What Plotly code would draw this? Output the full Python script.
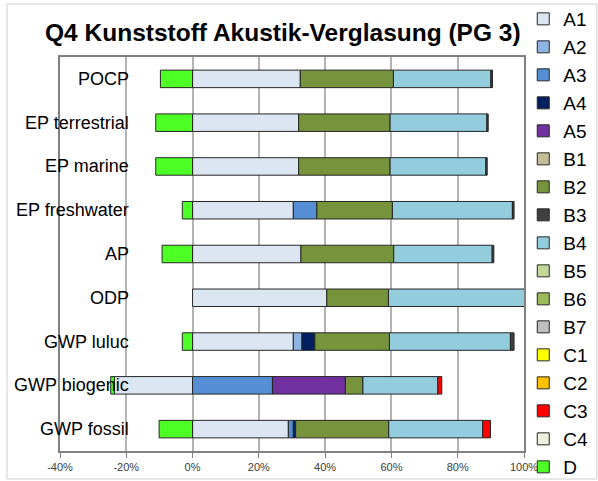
import plotly.graph_objects as go

categories = ["POCP", "EP terrestrial", "EP marine", "EP freshwater", "AP",
              "ODP", "GWP luluc", "GWP biogenic", "GWP fossil"]
x_ticks = [-40, -20, 0, 20, 40, 60, 80, 100]
x_tick_labels = ["-40%", "-20%", "0%", "20%", "40%", "60%", "80%", "100%"]

# values in % per module
A1 = [32.5, 32.0, 32.0, 30.4, 32.7, 40.5, 30.4, -23.6, 28.9]
A2 = [0, 0, 0, 0, 0, 0, 2.6, 0, 0]
A3 = [0, 0, 0, 7.1, 0, 0, 0, 24.1, 1.5]
A4 = [0, 0, 0, 0, 0, 0, 3.9, 0, 0.7]
A5 = [0, 0, 0, 0, 0, 0, 0, 22.0, 0]
B1 = [0, 0, 0, 0, 0, 0, 0, 0, 0]
B2 = [28.1, 27.6, 27.6, 22.8, 28.0, 18.6, 22.5, 5.3, 28.1]
B3 = [0.5, 0.4, 0.4, 0.5, 0.5, 0, 1.1, 0, 0]
B4 = [29.4, 29.2, 28.9, 36.2, 29.7, 41.5, 36.5, 22.6, 28.3]
B5 = [0, 0, 0, 0, 0, 0, 0, 0, 0]
B6 = [0, 0, 0, 0, 0, 0, 0, 0, 0]
B7 = [0, 0, 0, 0, 0, 0, 0, 0, 0]
C1 = [0, 0, 0, 0, 0, 0, 0, 0, 0]
C2 = [0, 0, 0, 0, 0, 0, 0, 0, 0]
C3 = [0, 0, 0, 0, 0, 0, 0, 1.2, 2.4]
C4 = [0, 0, 0, 0, 0, 0, 0, 0, 0]
D = [-9.7, -11.1, -11.1, -3.1, -9.2, 0, -3.1, -1.1, -10.1]

series = [
    ("A1", A1, "#dce6f2"), ("A2", A2, "#8db4e2"), ("A3", A3, "#558ed5"),
    ("A4", A4, "#002060"), ("A5", A5, "#7030a0"), ("B1", B1, "#c4bd97"),
    ("B2", B2, "#77933c"), ("B3", B3, "#404040"), ("B4", B4, "#93cddd"),
    ("B5", B5, "#c4d79b"), ("B6", B6, "#9bbb59"), ("B7", B7, "#bfbfbf"),
    ("C1", C1, "#ffff00"), ("C2", C2, "#ffc000"), ("C3", C3, "#ff0000"),
    ("C4", C4, "#ebf1de"), ("D", D, "#4dff24"),
]
# stacking order: dark end segment sits after B4
stack_order = ["A1", "A2", "A3", "A4", "A5", "B1", "B2", "B4", "B3",
               "B5", "B6", "B7", "C1", "C2", "C3", "C4", "D"]

FONT = "Liberation Sans, Arial, sans-serif"
fig = go.Figure()
lookup = {s[0]: s for s in series}
names = [s[0] for s in series]
for name in stack_order:
    _, vals, col = lookup[name]
    rank = names.index(name)
    fig.add_trace(go.Bar(
        y=categories, x=[v if v != 0 else None for v in vals],
        name=name, orientation="h", legendrank=rank + 1,
        legendgroup=name,
        marker=dict(color=col, line=dict(color="#262626", width=1)),
    ))

for c in categories:
    fig.add_annotation(x=-18.5, y=c, xref="x", yref="y", text=c,
                       showarrow=False, xanchor="right",
                       font=dict(family=FONT, size=18, color="#000000"))

fig.add_shape(type="rect", xref="paper", yref="paper",
              x0=-0.1142, x1=1.157, y0=-0.0711, y1=1.1345,
              line=dict(color="#cfcfcf", width=1), layer="below")

fig.update_layout(
    width=598, height=481,
    margin=dict(l=60, r=74, t=57, b=30, autoexpand=False),
    paper_bgcolor="white", plot_bgcolor="white",
    barmode="relative", bargap=0.6,
    font=dict(family=FONT),
    title=dict(text="<b>Q4 Kunststoff Akustik-Verglasung (PG 3)</b>",
               xref="container", x=0.473, xanchor="center",
               yref="container", y=0.933, yanchor="middle",
               font=dict(family=FONT, size=24.5, color="#000000")),
    legend=dict(xref="container", yref="container", x=0.875, y=1.032,
                xanchor="left", yanchor="top", traceorder="grouped",
                tracegroupgap=0.3, maxheight=700,
                font=dict(family=FONT, size=19, color="#000000"),
                bgcolor="rgba(0,0,0,0)"),
    xaxis=dict(range=[-40, 100], tickvals=x_ticks, ticktext=x_tick_labels,
               showgrid=True, gridcolor="#b3b3b3", gridwidth=1.5,
               zeroline=False, showline=True, mirror=True,
               linecolor="#808080", linewidth=1.5,
               ticks="outside", ticklen=5, tickcolor="#808080",
               tickfont=dict(family=FONT, size=11, color="#404040")),
    yaxis=dict(categoryorder="array", categoryarray=categories,
               autorange="reversed", showticklabels=False,
               showgrid=False, zeroline=False, showline=True, mirror=True,
               linecolor="#808080", linewidth=1.5, ticks=""),
    yaxis2=dict(overlaying="y", anchor="free", position=40 / 140,
                range=[len(categories) - 0.5, -0.5],
                tickvals=[i - 0.5 for i in range(len(categories) + 1)],
                ticks="outside", ticklen=5, tickcolor="#808080",
                showticklabels=False, showgrid=False, zeroline=False,
                showline=False),
)

fig.write_html("out.html", config={"displayModeBar": False},
               post_script="document.body.style.margin='0';"
                           "document.body.style.overflow='hidden';")
